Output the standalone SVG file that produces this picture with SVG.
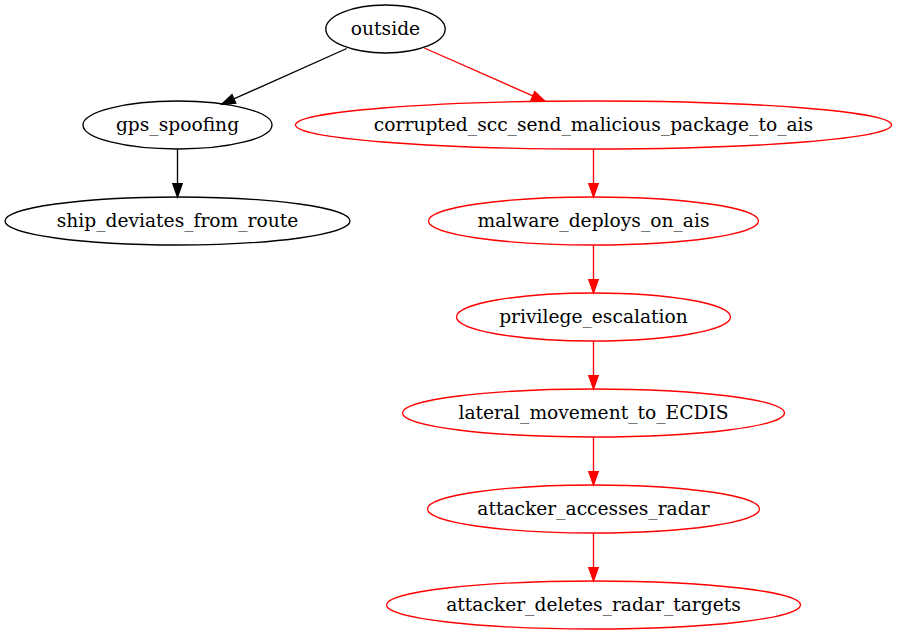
<svg xmlns="http://www.w3.org/2000/svg" width="897" height="635" viewBox="0 0 897 635">
<style>
.n ellipse{fill:none;stroke-width:1.33}
.b ellipse{stroke:#000}
.r ellipse{stroke:#ff0000}
text{font-family:"DejaVu Serif","Liberation Serif",serif;font-size:18.67px;text-anchor:middle;fill:#000}
.e line{stroke-width:1.33}
.eb line{stroke:#000}.eb polygon{fill:#000;stroke:#000;stroke-width:1.33}
.er line{stroke:#ff0000}.er polygon{fill:#ff0000;stroke:#ff0000;stroke-width:1.33}
</style>
<rect width="897" height="635" fill="#fff"/>
<g id="connectors">
<g class="e eb">
<line x1="346.7" y1="48.5" x2="233.9" y2="98.9"/>
<polygon points="235.8,103.2 232,94.6 221.7,104.3"/>
<line x1="177.5" y1="149" x2="177.5" y2="183.7"/>
<polygon points="172.8,183.7 182.2,183.7 177.5,197"/>
</g>
<g class="e er">
<line x1="424.3" y1="48" x2="532.8" y2="95.9"/>
<polygon points="530.9,100.2 534.7,91.6 545,101.3"/>
<line x1="593.5" y1="149" x2="593.5" y2="183.7"/>
<polygon points="588.8,183.7 598.2,183.7 593.5,197"/>
<line x1="593.5" y1="245" x2="593.5" y2="279.7"/>
<polygon points="588.8,279.7 598.2,279.7 593.5,293"/>
<line x1="593.5" y1="341" x2="593.5" y2="375.7"/>
<polygon points="588.8,375.7 598.2,375.7 593.5,389"/>
<line x1="593.5" y1="437" x2="593.5" y2="471.7"/>
<polygon points="588.8,471.7 598.2,471.7 593.5,485"/>
<line x1="593.5" y1="533" x2="593.5" y2="567.7"/>
<polygon points="588.8,567.7 598.2,567.7 593.5,581"/>
</g>
</g>
<g id="outside" class="n b"><ellipse cx="385.5" cy="29" rx="59.7" ry="24"/><text x="385.5" y="34.5">outside</text></g>
<g id="gps_spoofing" class="n b"><ellipse cx="177.5" cy="125" rx="94.5" ry="24"/><text x="177.5" y="130.5">gps_spoofing</text></g>
<g id="ship_deviates_from_route" class="n b"><ellipse cx="177.5" cy="221" rx="172.5" ry="24"/><text x="177.5" y="226.5">ship_deviates_from_route</text></g>
<g id="corrupted_scc_send_malicious_package_to_ais" class="n r"><ellipse cx="593.5" cy="125" rx="298" ry="24"/><text x="593.5" y="130.5">corrupted_scc_send_malicious_package_to_ais</text></g>
<g id="malware_deploys_on_ais" class="n r"><ellipse cx="593.5" cy="221" rx="165" ry="24"/><text x="593.5" y="226.5">malware_deploys_on_ais</text></g>
<g id="privilege_escalation" class="n r"><ellipse cx="593.5" cy="317" rx="137" ry="24"/><text x="593.5" y="322.5">privilege_escalation</text></g>
<g id="lateral_movement_to_ECDIS" class="n r"><ellipse cx="593.5" cy="413" rx="191" ry="24"/><text x="593.5" y="418.5">lateral_movement_to_ECDIS</text></g>
<g id="attacker_accesses_radar" class="n r"><ellipse cx="593.5" cy="509" rx="166" ry="24"/><text x="593.5" y="514.5">attacker_accesses_radar</text></g>
<g id="attacker_deletes_radar_targets" class="n r"><ellipse cx="593.5" cy="605" rx="207" ry="24"/><text x="593.5" y="610.5">attacker_deletes_radar_targets</text></g>
</svg>
